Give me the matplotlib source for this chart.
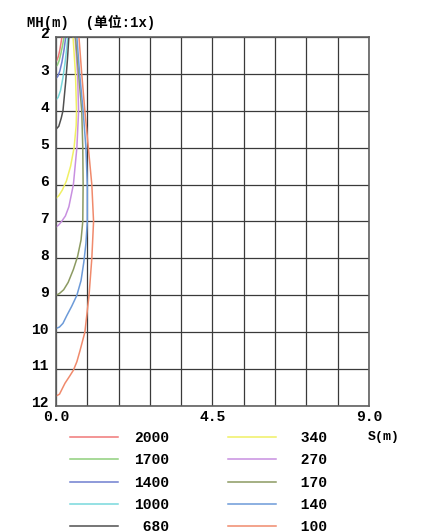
import matplotlib
matplotlib.use("Agg")
from matplotlib import pyplot as plt
from matplotlib.transforms import ScaledTranslation
import numpy as np

# series labels and colours (legend order, column-major)
labels = ["2000", "1700", "1400", "1000", "680", "340", "270", "170", "140", "100"]
colors = ["#f07878", "#90d07c", "#6f7fd0", "#78d8dc", "#505050",
          "#f0f064", "#c890e0", "#8c9a62", "#6c9ad8", "#f08a6c"]

# curve points: S (m) and MH (m)
s_2000 = [0, 0.03, 0.07, 0.11, 0.14, 0.17]
mh_2000 = [2.65, 2.62, 2.52, 2.35, 2.18, 2.0]
s_1700 = [0, 0.04, 0.09, 0.14, 0.19, 0.23]
mh_1700 = [2.8, 2.76, 2.64, 2.45, 2.22, 2.0]
s_1400 = [0, 0.05, 0.11, 0.17, 0.23, 0.28]
mh_1400 = [3.12, 3.07, 2.92, 2.68, 2.35, 2.0]
s_1000 = [0, 0.06, 0.13, 0.2, 0.26, 0.31, 0.34]
mh_1000 = [3.7, 3.64, 3.45, 3.1, 2.7, 2.3, 2.0]
s_680 = [0, 0.08, 0.15, 0.2, 0.28, 0.33, 0.37]
mh_680 = [4.5, 4.42, 4.2, 4.0, 3.2, 2.6, 2.0]
s_340 = [0, 0.08, 0.18, 0.3, 0.42, 0.52, 0.58, 0.59, 0.56, 0.49]
mh_340 = [6.37, 6.3, 6.15, 5.9, 5.5, 5.0, 4.4, 4.0, 3.0, 2.0]
s_270 = [0, 0.07, 0.16, 0.27, 0.37, 0.5, 0.6, 0.65, 0.62, 0.55]
mh_270 = [7.15, 7.1, 7.0, 6.85, 6.6, 6.0, 5.0, 4.0, 3.0, 2.0]
s_170 = [0, 0.1, 0.22, 0.35, 0.5, 0.62, 0.72, 0.77, 0.78, 0.77, 0.74, 0.65, 0.56]
mh_170 = [9.0, 8.95, 8.85, 8.65, 8.3, 7.95, 7.5, 7.0, 6.0, 5.0, 4.0, 3.0, 2.0]
s_140 = [0, 0.1, 0.2, 0.31, 0.45, 0.6, 0.72, 0.8, 0.86, 0.9, 0.9, 0.86, 0.78, 0.68, 0.6]
mh_140 = [9.9, 9.86, 9.76, 9.55, 9.3, 9.0, 8.6, 8.1, 7.6, 7.0, 6.0, 5.0, 4.0, 3.0, 2.0]
s_100 = [0, 0.1, 0.26, 0.4, 0.5, 0.6, 0.69, 0.83, 0.95, 1.03, 1.08, 1.03, 0.93, 0.83, 0.74, 0.66]
mh_100 = [11.73, 11.68, 11.38, 11.18, 11.03, 10.8, 10.5, 10.0, 9.0, 8.0, 7.0, 6.0, 5.0, 4.0, 3.0, 2.0]

curves = [(s_2000, mh_2000), (s_1700, mh_1700), (s_1400, mh_1400), (s_1000, mh_1000),
          (s_680, mh_680), (s_340, mh_340), (s_270, mh_270), (s_170, mh_170),
          (s_140, mh_140), (s_100, mh_100)]

x_ticks = [0.0, 4.5, 9.0]
x_ticklabels = ["0.0", "4.5", "9.0"]
y_ticks = list(range(2, 13))

mono = ["Liberation Mono", "Noto Sans CJK SC", "DejaVu Sans"]

fig = plt.figure(figsize=(4.35, 5.31), dpi=100)
ax = fig.add_axes([56 / 435, 1 - 406 / 531, 313 / 435, 369 / 531])

for (s, mh), c, lab in zip(curves, colors, labels):
    # labels right-aligned like the original legend
    ax.plot(s, mh, color=c, lw=1.1, label=lab.rjust(4))

ax.set_xlim(0, 9.0)
ax.set_ylim(12, 2)

# grid: every 0.9 m across, every 1 m down
ax.set_xticks(np.arange(0, 9.01, 0.9), minor=True)
ax.set_yticks(y_ticks)
ax.set_xticks(x_ticks)
ax.set_xticklabels(x_ticklabels, fontfamily=mono, fontweight="bold", fontsize=10.5)
ax.set_yticklabels([str(v) for v in y_ticks], fontfamily=mono,
                   fontweight="bold", fontsize=10.5)
ax.grid(True, which="both", axis="x", color="#3a3a3a", lw=0.9)
ax.grid(True, which="major", axis="y", color="#3a3a3a", lw=0.9)
ax.tick_params(which="both", length=0)
ax.tick_params(axis="x", pad=3)
ax.tick_params(axis="y", pad=5)
for lbl in ax.get_yticklabels():
    lbl.set_transform(lbl.get_transform() + ScaledTranslation(0, 3 / 72, fig.dpi_scale_trans))
for sp in ax.spines.values():
    sp.set_color("#606060")
    sp.set_linewidth(1.2)

fig.text(27 / 435, 1 - 22 / 531, "MH(m)  (单位:1x)", fontfamily=mono,
         fontweight="bold", fontsize=10, va="center", ha="left")
fig.text(368 / 435, 1 - 437 / 531, "S(m)", fontfamily=mono,
         fontweight="bold", fontsize=9.5, va="center", ha="left")

fig.legend(loc="upper left", bbox_to_anchor=(70 / 435, 1 - 431 / 531), ncol=2,
           frameon=False, borderpad=0, borderaxespad=0, handlelength=3.3,
           handletextpad=1.1, columnspacing=4.05, labelspacing=0.57,
           prop={"family": mono, "weight": "bold", "size": 10.5})

fig.savefig("out.png", dpi=100)
